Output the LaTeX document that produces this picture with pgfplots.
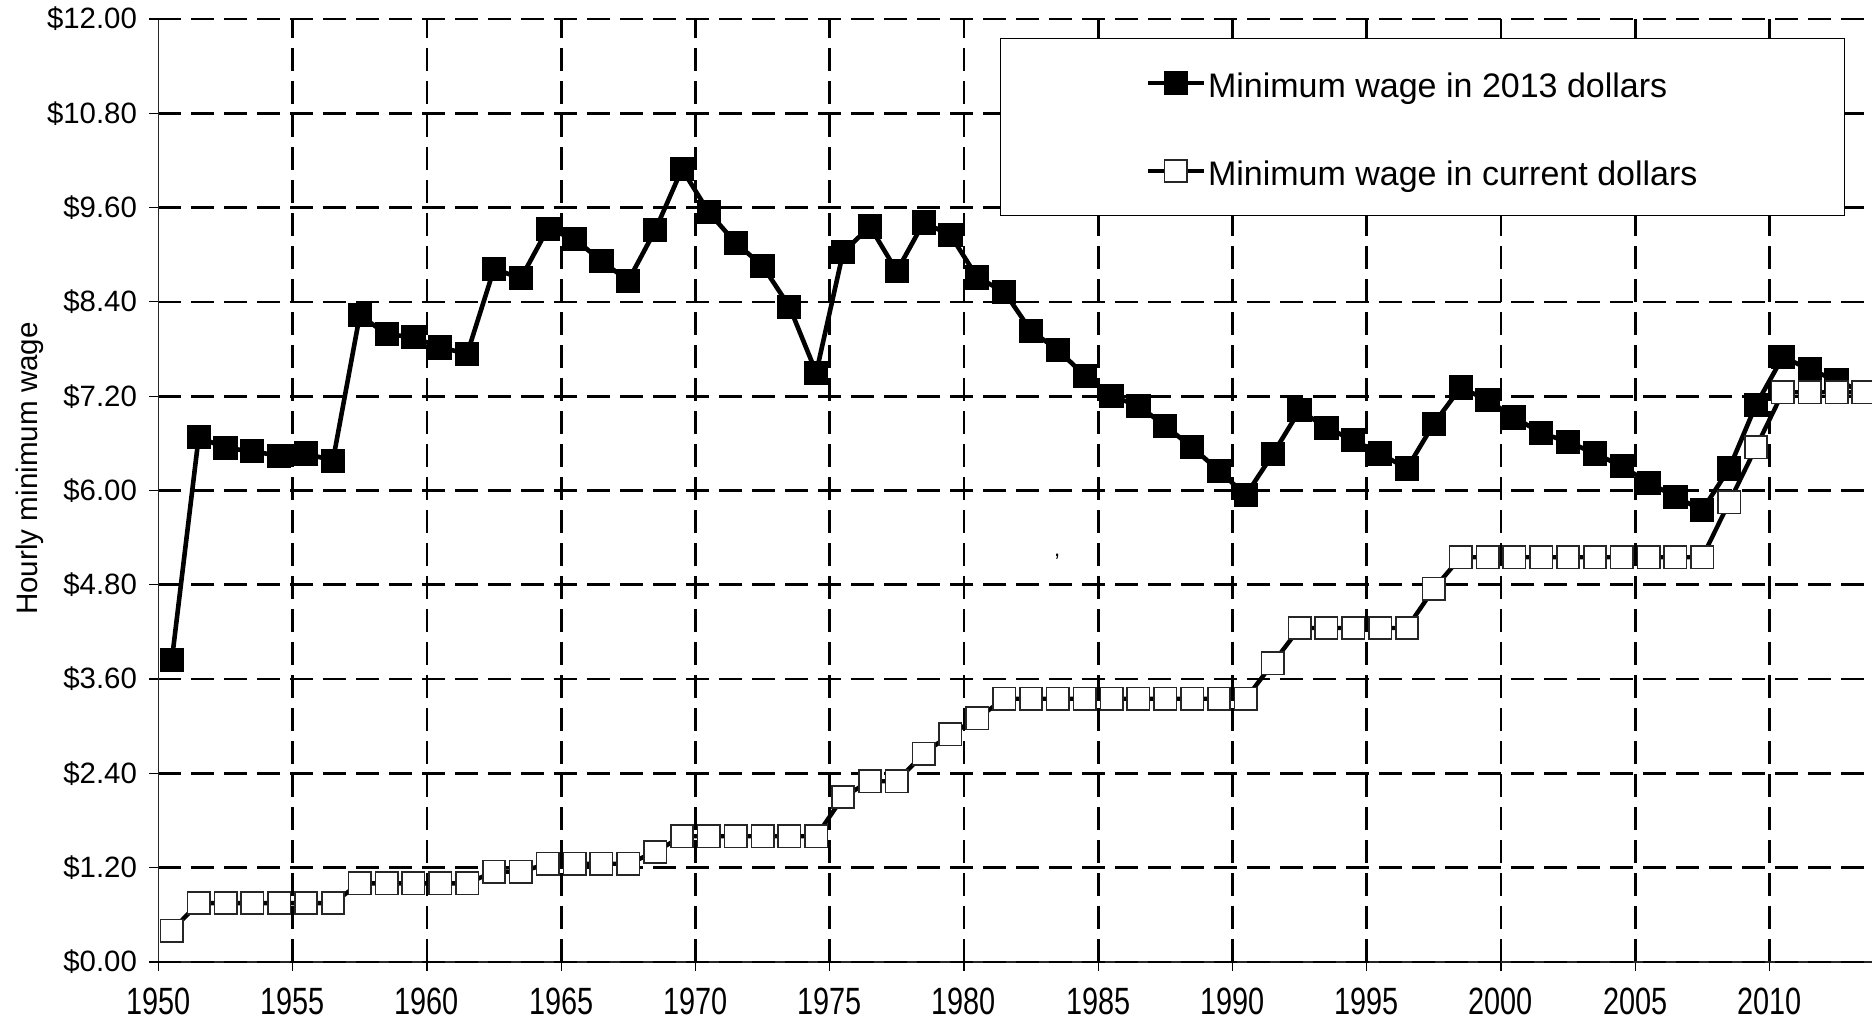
\documentclass[border=0pt]{standalone}
\usepackage{pgfplots}
\usepackage{pgfplotstable}
\usepackage{graphicx}
\pgfplotsset{compat=1.18}
\usepackage{fontspec}
\setmainfont{Liberation Sans}
\newcommand\xl[1]{\scalebox{0.76}[1]{#1}}

\pgfplotstableread{
x real cur
1950.5 3.84 0.40
1951.5 6.68 0.75
1952.5 6.54 0.75
1953.5 6.50 0.75
1954.5 6.44 0.75
1955.5 6.47 0.75
1956.5 6.38 0.75
1957.5 8.23 1.00
1958.5 7.99 1.00
1959.5 7.95 1.00
1960.5 7.82 1.00
1961.5 7.74 1.00
1962.5 8.82 1.15
1963.5 8.70 1.15
1964.5 9.33 1.25
1965.5 9.20 1.25
1966.5 8.92 1.25
1967.5 8.67 1.25
1968.5 9.31 1.40
1969.5 10.09 1.60
1970.5 9.54 1.60
1971.5 9.15 1.60
1972.5 8.86 1.60
1973.5 8.34 1.60
1974.5 7.50 1.60
1975.5 9.03 2.10
1976.5 9.36 2.30
1977.5 8.79 2.30
1978.5 9.41 2.65
1979.5 9.25 2.90
1980.5 8.71 3.10
1981.5 8.53 3.35
1982.5 8.03 3.35
1983.5 7.79 3.35
1984.5 7.46 3.35
1985.5 7.20 3.35
1986.5 7.08 3.35
1987.5 6.82 3.35
1988.5 6.55 3.35
1989.5 6.25 3.35
1990.5 5.94 3.35
1991.5 6.46 3.80
1992.5 7.02 4.25
1993.5 6.80 4.25
1994.5 6.64 4.25
1995.5 6.47 4.25
1996.5 6.28 4.25
1997.5 6.85 4.75
1998.5 7.31 5.15
1999.5 7.15 5.15
2000.5 6.93 5.15
2001.5 6.73 5.15
2002.5 6.62 5.15
2003.5 6.47 5.15
2004.5 6.31 5.15
2005.5 6.10 5.15
2006.5 5.92 5.15
2007.5 5.75 5.15
2008.5 6.28 5.85
2009.5 7.09 6.55
2010.5 7.70 7.25
2011.5 7.54 7.25
2012.5 7.40 7.25
2013.5 7.25 7.25
}\data

\begin{document}
\begin{tikzpicture}
\begin{axis}[
  scale only axis,
  width=856.8pt, height=471.5pt,
  xmin=1950, xmax=2013.82, ymin=0, ymax=12,
  axis x line*=bottom, axis y line*=left,
  axis line style={line width=0.8pt, black!85},
  xtick={1955,1960,1965,1970,1975,1980,1985,1990,1995,2000,2005,2010},
  xticklabels={\xl{1955},\xl{1960},\xl{1965},\xl{1970},\xl{1975},\xl{1980},\xl{1985},\xl{1990},\xl{1995},\xl{2000},\xl{2005},\xl{2010}},
  extra x ticks={1950}, extra x tick labels={\xl{1950}},
  extra x tick style={grid=none},
  ytick={1.2,2.4,3.6,4.8,6,7.2,8.4,9.6,10.8},
  yticklabels={\$1.20,\$2.40,\$3.60,\$4.80,\$6.00,\$7.20,\$8.40,\$9.60,\$10.80},
  extra y ticks={0,12}, extra y tick labels={\$0.00,\$12.00},
  extra y tick style={grid style={solid, gray!70, line width=1.3pt}},
  grid=major,
  major grid style={black, line width=1.35pt, dash pattern=on 11.5pt off 5pt},
  tick align=outside, major tick length=4.5pt,
  tick style={black, line width=0.6pt},
  xticklabel style={font=\fontsize{19}{19}\selectfont, yshift=-5pt},
  yticklabel style={font=\fontsize{14.7}{14.7}\selectfont, xshift=-2.7pt},
  ylabel={Hourly minimum wage},
  ylabel style={font=\fontsize{14.8}{14.8}\selectfont, at={([shift={(-54pt,11pt)}]axis description cs:0,0.5)}, anchor=south},
  legend style={at={(0.9843,0.9799)}, anchor=north east, draw=black, line width=0.6pt, fill=white,
    inner xsep=72.5pt, inner ysep=14.5pt, row sep=28.5pt,
    font=\fontsize{17}{17}\selectfont,
    nodes={text height=15pt, text depth=0.5pt, inner ysep=0pt, inner xsep=1pt}},
  legend cell align=left,
  legend image code/.code={\draw[mark repeat=2,mark phase=2,#1] plot coordinates {(0pt,0pt)(14pt,0pt)(28pt,0pt)};},
]
\addplot[black, line width=2.3pt, mark=square*, mark size=5.8pt,
  mark options={solid, fill=black, line width=0.5pt}] table[x=x,y=real]{\data};
\addlegendentry{Minimum wage in 2013 dollars}
\addplot[black, line width=2.2pt, mark=square*, mark size=5.6pt,
  mark options={solid, fill=white, draw=black!85, line width=0.8pt}] table[x=x,y=cur]{\data};
\addlegendentry{Minimum wage in current dollars}
\node[font=\fontsize{11}{11}\selectfont] at (axis cs:1983.47,5.16) {,};
\end{axis}
\pgfresetboundingbox
\path ([shift={(-79.2pt,-32.85pt)}]current axis.south west) rectangle ([shift={(0pt,9.5pt)}]current axis.north east);
\end{tikzpicture}
\end{document}
